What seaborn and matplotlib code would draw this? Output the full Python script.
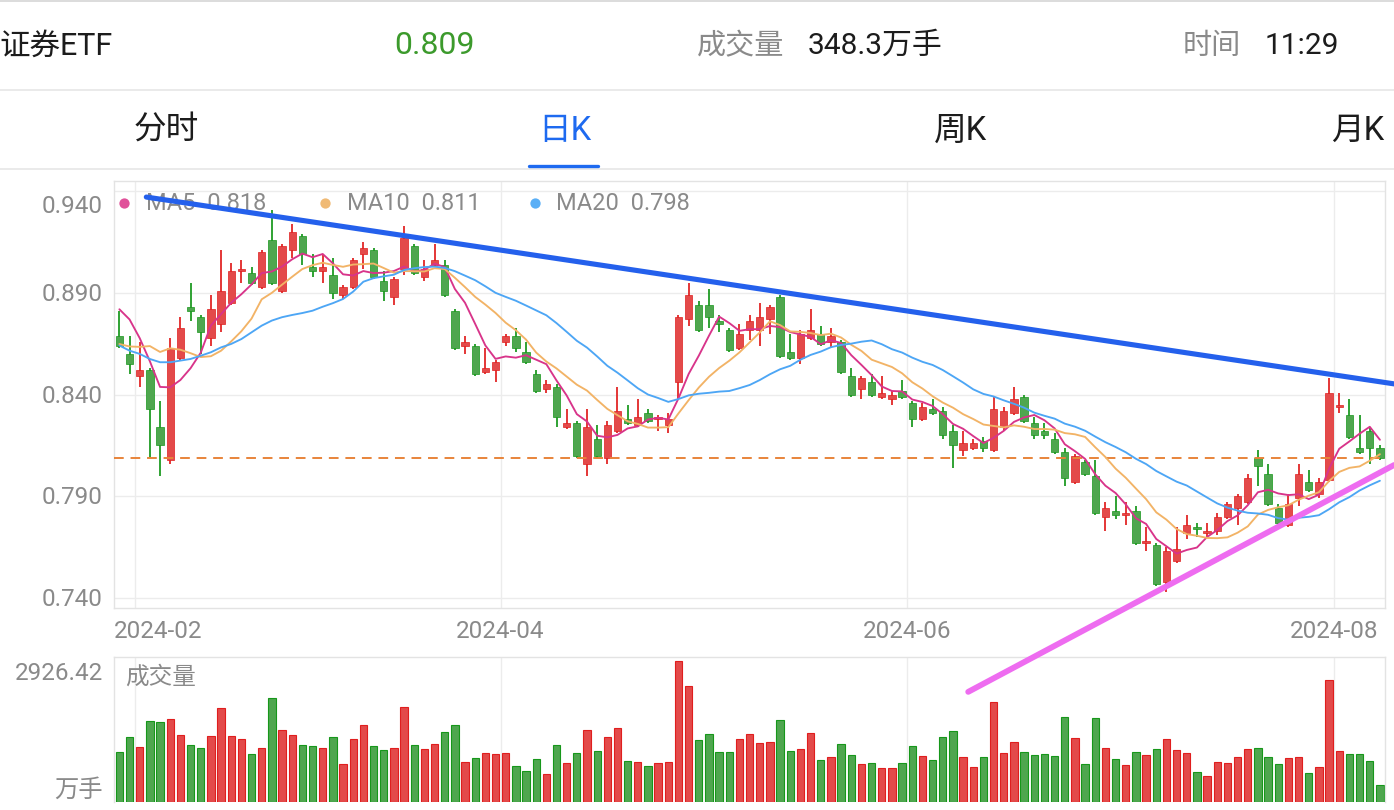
import numpy as np
import pandas as pd
import matplotlib
matplotlib.use("Agg")
import matplotlib.pyplot as plt
import seaborn as sns
from matplotlib.transforms import blended_transform_factory, offset_copy

# ---------------- data ----------------
open_ = [0.869, 0.860, 0.849, 0.852, 0.824, 0.808, 0.858, 0.883, 0.878, 0.868,
         0.875, 0.885, 0.901, 0.900, 0.893, 0.916, 0.891, 0.911, 0.918, 0.903,
         0.901, 0.899, 0.889, 0.893, 0.909, 0.911, 0.896, 0.888, 0.902, 0.913,
         0.898, 0.904, 0.904, 0.881, 0.864, 0.864, 0.851, 0.852, 0.866, 0.869,
         0.861, 0.850, 0.843, 0.844, 0.824, 0.826, 0.806, 0.818, 0.809, 0.822,
         0.828, 0.825, 0.831, 0.828, 0.825, 0.846, 0.877, 0.884, 0.884, 0.876,
         0.872, 0.863, 0.872, 0.872, 0.877, 0.888, 0.861, 0.858, 0.868, 0.870,
         0.866, 0.866, 0.849, 0.843, 0.846, 0.839, 0.838, 0.842, 0.836, 0.828,
         0.833, 0.832, 0.822, 0.813, 0.814, 0.817, 0.813, 0.824, 0.831, 0.839,
         0.826, 0.822, 0.818, 0.812, 0.797, 0.807, 0.800, 0.780, 0.783, 0.781,
         0.783, 0.767, 0.766, 0.748, 0.758, 0.772, 0.775, 0.772, 0.773, 0.780,
         0.784, 0.787, 0.809, 0.801, 0.784, 0.776, 0.789, 0.797, 0.791, 0.798,
         0.834, 0.830, 0.814, 0.822, 0.814]
high = [0.881, 0.869, 0.866, 0.853, 0.837, 0.868, 0.878, 0.895, 0.879, 0.889,
        0.911, 0.905, 0.906, 0.903, 0.911, 0.931, 0.914, 0.924, 0.919, 0.909,
        0.909, 0.907, 0.894, 0.907, 0.915, 0.912, 0.901, 0.898, 0.923, 0.914,
        0.906, 0.914, 0.906, 0.882, 0.869, 0.865, 0.863, 0.857, 0.870, 0.873,
        0.866, 0.852, 0.847, 0.845, 0.833, 0.827, 0.833, 0.825, 0.827, 0.844,
        0.835, 0.838, 0.833, 0.830, 0.831, 0.879, 0.895, 0.886, 0.892, 0.879,
        0.873, 0.875, 0.879, 0.885, 0.884, 0.889, 0.870, 0.872, 0.882, 0.874,
        0.873, 0.867, 0.853, 0.849, 0.850, 0.849, 0.842, 0.847, 0.837, 0.836,
        0.838, 0.834, 0.825, 0.822, 0.818, 0.819, 0.839, 0.834, 0.844, 0.840,
        0.829, 0.826, 0.821, 0.814, 0.811, 0.808, 0.808, 0.787, 0.790, 0.787,
        0.785, 0.775, 0.767, 0.765, 0.775, 0.781, 0.777, 0.777, 0.782, 0.787,
        0.791, 0.801, 0.813, 0.806, 0.786, 0.791, 0.806, 0.803, 0.799, 0.848,
        0.841, 0.838, 0.830, 0.824, 0.815]
low = [0.863, 0.850, 0.844, 0.809, 0.800, 0.806, 0.857, 0.876, 0.860, 0.864,
       0.871, 0.884, 0.895, 0.894, 0.892, 0.894, 0.890, 0.907, 0.904, 0.898,
       0.895, 0.887, 0.887, 0.892, 0.902, 0.897, 0.886, 0.884, 0.899, 0.899,
       0.896, 0.903, 0.888, 0.862, 0.860, 0.849, 0.850, 0.846, 0.864, 0.861,
       0.855, 0.841, 0.841, 0.824, 0.823, 0.809, 0.800, 0.809, 0.806, 0.821,
       0.825, 0.824, 0.826, 0.822, 0.821, 0.838, 0.874, 0.871, 0.873, 0.871,
       0.861, 0.862, 0.867, 0.864, 0.870, 0.858, 0.857, 0.855, 0.867, 0.864,
       0.863, 0.850, 0.839, 0.838, 0.839, 0.838, 0.835, 0.838, 0.824, 0.827,
       0.830, 0.818, 0.804, 0.810, 0.813, 0.812, 0.812, 0.822, 0.830, 0.826,
       0.818, 0.818, 0.811, 0.795, 0.796, 0.800, 0.781, 0.773, 0.779, 0.776,
       0.766, 0.763, 0.746, 0.743, 0.757, 0.769, 0.770, 0.770, 0.771, 0.779,
       0.776, 0.786, 0.795, 0.785, 0.776, 0.775, 0.785, 0.792, 0.789, 0.797,
       0.831, 0.818, 0.811, 0.806, 0.808]
close = [0.864, 0.855, 0.852, 0.833, 0.815, 0.863, 0.873, 0.881, 0.871, 0.882,
         0.891, 0.901, 0.902, 0.895, 0.910, 0.895, 0.913, 0.920, 0.909, 0.901,
         0.903, 0.890, 0.893, 0.906, 0.912, 0.898, 0.891, 0.897, 0.917, 0.900,
         0.902, 0.906, 0.889, 0.863, 0.866, 0.850, 0.853, 0.856, 0.869, 0.863,
         0.856, 0.842, 0.845, 0.829, 0.826, 0.810, 0.824, 0.810, 0.825, 0.832,
         0.826, 0.829, 0.827, 0.829, 0.828, 0.878, 0.889, 0.872, 0.878, 0.875,
         0.862, 0.870, 0.876, 0.878, 0.883, 0.859, 0.858, 0.870, 0.872, 0.865,
         0.869, 0.851, 0.840, 0.848, 0.840, 0.841, 0.840, 0.839, 0.828, 0.834,
         0.831, 0.820, 0.815, 0.816, 0.816, 0.814, 0.833, 0.832, 0.838, 0.827,
         0.820, 0.820, 0.812, 0.799, 0.810, 0.801, 0.782, 0.784, 0.781, 0.782,
         0.767, 0.768, 0.747, 0.763, 0.764, 0.776, 0.774, 0.773, 0.780, 0.786,
         0.790, 0.799, 0.805, 0.786, 0.777, 0.786, 0.801, 0.793, 0.797, 0.841,
         0.835, 0.819, 0.812, 0.814, 0.809]
volume = [1042, 1352, 1145, 1677, 1670, 1718, 1387, 1180, 1125, 1373,
          1946, 1380, 1304, 994, 1125, 2167, 1490, 1387, 1180, 1166,
          1132, 1346, 794, 1318, 1608, 1159, 1090, 1118, 1967, 1180,
          1097, 1214, 1456, 1608, 828, 918, 1028, 1001, 1014, 759,
          649, 890, 580, 1180, 807, 1021, 1504, 1063, 1346, 1546,
          863, 835, 759, 807, 835, 2926.42, 2401, 1283, 1408, 1042,
          1042, 1304, 1415, 1221, 1242, 1711, 1063, 1097, 1428, 869,
          945, 1201, 973, 800, 821, 718, 718, 807, 1159, 959,
          869, 1359, 1484, 932, 725, 932, 2084, 1014, 1242, 1035,
          973, 994, 959, 1760, 1325, 794, 1739, 1118, 897, 766,
          1049, 973, 1097, 1304, 1083, 1014, 628, 545, 828, 814,
          932, 1097, 1118, 938, 794, 911, 945, 607, 725, 2525,
          1063, 1001, 1001, 863, 348.3]
# closes before the first visible candle (only feed the moving averages)
warmup_closes = [0.905, 0.884, 0.883, 0.847, 0.863, 0.857, 0.865, 0.839, 0.848, 0.843,
                 0.867, 0.854, 0.829, 0.844, 0.845, 0.880, 0.898, 0.890, 0.878]
ma_periods = [5, 10, 20]
month_labels = ["2024-02", "2024-04", "2024-06", "2024-08"]
month_first_index = [2, 38, 78, 120]
price_ticks = [0.740, 0.790, 0.840, 0.890, 0.940]
# hand-drawn trend lines (candle index, price)
resistance_idx = [2.65, 125.4]
resistance_price = [0.9372, 0.8453]
support_idx = [83.5, 125.4]
support_price = [0.6938, 0.8054]

security_name = "证券ETF"
header_time = "11:29"
tabs = ["分时", "日K", "周K", "月K"]
active_tab = "日K"

# ---------------- style ----------------
sns.set_theme(style="white")
plt.rcParams["font.family"] = ["Roboto", "Noto Sans CJK SC", "DejaVu Sans"]

RED_FACE, RED_EDGE = "#E34A4A", "#E01E1E"
GREEN_FACE, GREEN_EDGE = "#4FA64F", "#16971A"
MA_COLORS = {5: "#D8348A", 10: "#F2B366", 20: "#4DA6F5"}
MA_DOT = {5: "#E0519A", 10: "#F0BA75", 20: "#5AAFF6"}
GRID = "#ECECEC"
SPINE = "#E3E3E3"
GRAY_TXT = "#8A8A8A"
BLACK_TXT = "#1C1C1C"
BLUE_TAB = "#1E6AF0"

W, H = 1394, 810
fig = plt.figure(figsize=(W / 100, H / 100), dpi=100, facecolor="white")


def fx(px):
    return px / W


def fy(py):
    return 1 - py / H


n = len(close)
idx = np.arange(n)
o = np.array(open_)
c = np.array(close)
hi = np.array(high)
lo = np.array(low)
vol = np.array(volume)
up = c >= o

# ---------------- header ----------------
for yline, colr in [(1, "#D5D5D5"), (89.5, "#E6E6E6"), (168.5, "#E6E6E6")]:
    fig.add_artist(plt.Line2D([0, 1], [fy(yline), fy(yline)], color=colr, lw=1.2,
                              transform=fig.transFigure))

fig.text(fx(-1), fy(46), security_name, ha="left", va="center", fontsize=22, color=BLACK_TXT)
fig.text(fx(435), fy(46), f"{c[-1]:.3f}", ha="center", va="center", fontsize=23,
         color="#3C9A2C")
fig.text(fx(697), fy(46), "成交量", ha="left", va="center", fontsize=21, color=GRAY_TXT)
fig.text(fx(808), fy(46), f"{vol[-1]:.1f}万手", ha="left", va="center", fontsize=21.5,
         color=BLACK_TXT)
fig.text(fx(1183), fy(46), "时间", ha="left", va="center", fontsize=21, color=GRAY_TXT)
fig.text(fx(1265), fy(46), header_time, ha="left", va="center", fontsize=21.5,
         color=BLACK_TXT)

tab_centers = [166, 565, 961, 1358]
for t, xc in zip(tabs, tab_centers):
    colr = BLUE_TAB if t == active_tab else BLACK_TXT
    fig.text(fx(xc), fy(131), t, ha="center", va="center", fontsize=23.5, color=colr)
    if t == active_tab:
        fig.add_artist(plt.Line2D([fx(xc - 36), fx(xc + 33)], [fy(165.5), fy(165.5)],
                                  color=BLUE_TAB, lw=2.4, transform=fig.transFigure))

# ---------------- price panel ----------------
ax_p = fig.add_axes([fx(114.3), fy(607.7), fx(1385 - 114.3), (607.7 - 181) / H])
ax_v = fig.add_axes([fx(114.3), fy(802.3), fx(1385 - 114.3), (802.3 - 657.3) / H])
ax_p.set_zorder(3)
ax_p.patch.set_visible(False)
ax_v.set_zorder(1)

ax_p.set_xlim(-0.5, n - 0.5)
ax_p.set_ylim(0.7352, 0.9451)
for ax in (ax_p, ax_v):
    ax.set_xticks([])
    ax.set_yticks([])
    for s in ax.spines.values():
        s.set_color(SPINE)
        s.set_linewidth(1.0)
    for m in month_first_index:
        ax.axvline(m - 0.5, color=GRID, lw=1.0, zorder=0)
for t in price_ticks:
    ax_p.axhline(t, color=GRID, lw=1.0, zorder=0)

# candles
wick_cols = np.where(up, RED_EDGE, GREEN_EDGE)
ax_p.vlines(idx, lo, hi, colors=wick_cols, lw=1.25, zorder=2)
body_bottom = np.minimum(o, c)
body_h = np.maximum(np.abs(c - o), 0.0006)
ax_p.bar(idx, body_h, bottom=body_bottom, width=0.72,
         color=np.where(up, RED_FACE, GREEN_FACE),
         edgecolor=np.where(up, RED_EDGE, GREEN_EDGE), linewidth=0.5, zorder=3)

# current price dashed line
ax_p.axhline(c[-1], color="#E8843A", lw=1.4, ls=(0, (5, 3.5)), zorder=3.5)

# moving averages
all_close = pd.Series(warmup_closes + close)
ma_last = {}
for p in ma_periods:
    ma = all_close.rolling(p).mean().iloc[len(warmup_closes):].to_numpy()
    ma_last[p] = ma[-1]
    sns.lineplot(x=idx, y=ma, ax=ax_p, color=MA_COLORS[p], linewidth=1.35, zorder=4)

# legend row
leg_y = 0.9484
for p, dot_x, txt_x in zip(ma_periods, [124, 325, 535], [146, 347, 556]):
    ax_p.scatter([(dot_x - 114.3) / 1270.7], [leg_y], s=55, color=MA_DOT[p],
                 transform=ax_p.transAxes, zorder=5, clip_on=False, linewidths=0)
    ax_p.text((txt_x - 114.3) / 1270.7, leg_y, f"MA{p}  {ma_last[p]:.3f}",
              transform=ax_p.transAxes, ha="left", va="center", fontsize=17,
              color=GRAY_TXT, zorder=5)

# y tick labels
ytr = offset_copy(blended_transform_factory(ax_p.transAxes, ax_p.transData), fig=fig,
                  x=-11.5, y=0, units="dots")
for t in price_ticks:
    dy = -15 if t == max(price_ticks) else -1.5
    tr = offset_copy(ytr, fig=fig, x=0, y=dy, units="dots")
    ax_p.text(0, t, f"{t:.3f}", transform=tr, ha="right", va="center",
              fontsize=17.5, color=GRAY_TXT)

# x tick labels
xtr = offset_copy(blended_transform_factory(ax_p.transData, ax_p.transAxes), fig=fig,
                  x=0, y=-24, units="dots")
for k, (m, lab) in enumerate(zip(month_first_index, month_labels)):
    if k == 0:
        ax_p.text(-0.5, 0, lab, transform=xtr, ha="left", va="center", fontsize=17.5,
                  color=GRAY_TXT)
    else:
        ax_p.text(m - 0.5, 0, lab, transform=xtr, ha="center", va="center",
                  fontsize=17.5, color=GRAY_TXT)

# trend lines
ax_p.plot(resistance_idx, resistance_price, color="#2460EC", lw=3.7,
          solid_capstyle="round", clip_on=False, zorder=6)
ax_p.plot(support_idx, support_price, color="#EE6CF0", lw=4.2,
          solid_capstyle="round", clip_on=False, zorder=6)

# ---------------- volume panel ----------------
ax_v.set_xlim(-0.5, n - 0.5)
ax_v.set_ylim(0, vol.max() * 1.026)
ax_v.bar(idx, vol, width=0.72, color=np.where(up, RED_FACE, GREEN_FACE),
         edgecolor=np.where(up, RED_EDGE, GREEN_EDGE), linewidth=0.8, zorder=2)
ax_v.spines["bottom"].set_visible(False)
vtr = offset_copy(ax_v.transAxes, fig=fig, x=-11.5, y=0, units="dots")
ax_v.text(0, 1, f"{vol.max():.2f}", transform=offset_copy(vtr, fig=fig, x=0, y=-16,
          units="dots"), ha="right", va="center", fontsize=17.5, color=GRAY_TXT)
ax_v.text(0, 0, "万手", transform=offset_copy(vtr, fig=fig, x=0, y=12, units="dots"),
          ha="right", va="center", fontsize=17.5, color=GRAY_TXT)
ax_v.text(0, 1, "成交量", transform=offset_copy(ax_v.transAxes, fig=fig, x=11, y=-20,
          units="dots"), ha="left", va="center", fontsize=17, color=GRAY_TXT)

fig.savefig("out.png", dpi=100, facecolor="white")
